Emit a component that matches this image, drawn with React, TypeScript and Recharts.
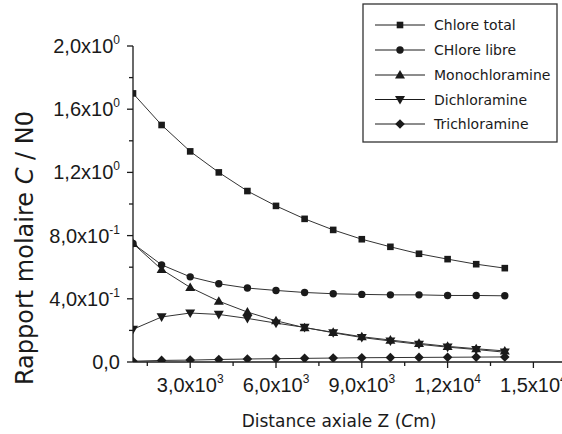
import React from "react";
import { LineChart, Line, XAxis, YAxis } from "recharts";

const distance = [1000, 2000, 3000, 4000, 5000, 6000, 7000, 8000, 9000, 10000, 11000, 12000, 13000, 14000];
const chloreTotal = [1.70, 1.50, 1.333, 1.20, 1.082, 0.988, 0.906, 0.836, 0.777, 0.729, 0.685, 0.651, 0.619, 0.594];
const chloreLibre = [0.75, 0.615, 0.539, 0.495, 0.468, 0.453, 0.440, 0.432, 0.428, 0.425, 0.425, 0.421, 0.421, 0.419];
const monochloramine = [0.75, 0.586, 0.472, 0.385, 0.316, 0.261, 0.217, 0.188, 0.160, 0.139, 0.118, 0.099, 0.084, 0.070];
const dichloramine = [0.207, 0.285, 0.31, 0.301, 0.276, 0.246, 0.219, 0.185, 0.155, 0.133, 0.112, 0.094, 0.079, 0.062];
const trichloramine = [0.005, 0.01, 0.012, 0.016, 0.019, 0.021, 0.023, 0.025, 0.027, 0.028, 0.029, 0.030, 0.031, 0.032];

const seriesNames = ["Chlore total", "CHlore libre", "Monochloramine", "Dichloramine", "Trichloramine"];
const seriesKeys = ["total", "libre", "mono", "di", "tri"];
const seriesShapes = ["square", "circle", "up", "down", "diamond"];

const xTicks = [1500, 3000, 4500, 6000, 7500, 9000, 10500, 12000, 13500, 15000];
const yTicks = [0, 0.2, 0.4, 0.6, 0.8, 1.0, 1.2, 1.4, 1.6, 1.8, 2.0];

const xLabel = "Distance axiale Z";
const yLabel = "Rapport molaire";

const data = distance.map((d, i) => ({
  z: d,
  total: chloreTotal[i],
  libre: chloreLibre[i],
  mono: monochloramine[i],
  di: dichloramine[i],
  tri: trichloramine[i],
}));

const INK = "#1a1a1a";
const TICK_FONT = "'Liberation Sans', Arial, sans-serif";
const TITLE_FONT = "'DejaVu Sans', sans-serif";

function sci(v: number) {
  if (Math.abs(v) < 1e-9) return { m: "0,0", e: null as string | null };
  const e = Math.floor(Math.log10(v) + 1e-9);
  const m = (v / Math.pow(10, e)).toFixed(1).replace(".", ",");
  return { m: m + "x10", e: String(e) };
}

function Marker({ shape, cx, cy }: { shape: string; cx: number; cy: number }) {
  if (cx == null || cy == null) return null;
  switch (shape) {
    case "square":
      return <rect x={cx - 3.3} y={cy - 3.3} width={6.6} height={6.6} fill={INK} />;
    case "circle":
      return <circle cx={cx} cy={cy} r={3.7} fill={INK} />;
    case "up":
      return <polygon points={`${cx},${cy - 5} ${cx + 5},${cy + 3.6} ${cx - 5},${cy + 3.6}`} fill={INK} />;
    case "down":
      return <polygon points={`${cx},${cy + 5} ${cx + 5},${cy - 3.6} ${cx - 5},${cy - 3.6}`} fill={INK} />;
    default:
      return <polygon points={`${cx},${cy - 4.8} ${cx + 4.8},${cy} ${cx},${cy + 4.8} ${cx - 4.8},${cy}`} fill={INK} />;
  }
}

function XTick(props: any) {
  const { x, y, payload } = props;
  const v = payload.value as number;
  const major = Math.round(v) % 3000 === 0;
  const s = sci(v);
  return (
    <g>
      <line x1={x} y1={y} x2={x} y2={y + (major ? 6 : 4)} stroke={INK} strokeWidth={1.3} />
      {major && (
        <text x={x} y={y + 30} textAnchor="middle" fontFamily={TICK_FONT} fontSize={20} fill={INK}>
          {s.m}
          {s.e !== null && (
            <tspan dy={-9} fontSize={12}>{s.e}</tspan>
          )}
        </text>
      )}
    </g>
  );
}

function YTick(props: any) {
  const { x, y, payload } = props;
  const v = payload.value as number;
  const major = Math.round(v * 10) % 4 === 0;
  const s = sci(v);
  return (
    <g>
      <line x1={x - (major ? 6 : 4)} y1={y} x2={x} y2={y} stroke={INK} strokeWidth={1.3} />
      {major && (
        <text x={x - 13} y={y + 7} textAnchor="end" fontFamily={TICK_FONT} fontSize={20} fill={INK}>
          {s.m}
          {s.e !== null && (
            <tspan dy={-9} fontSize={12}>{s.e}</tspan>
          )}
        </text>
      )}
    </g>
  );
}

function LegendBox() {
  const left = 363;
  const top = 4;
  const rowY = [25, 50, 75, 99.5, 124];
  return (
    <g>
      <rect x={left} y={top} width={194} height={138} fill="#fff" stroke="#333" strokeWidth={1.3} />
      {seriesNames.map((n, i) => (
        <g key={n}>
          <line x1={375} y1={rowY[i]} x2={425} y2={rowY[i]} stroke={INK} strokeWidth={1} />
          <Marker shape={seriesShapes[i]} cx={400} cy={rowY[i]} />
          <text x={434} y={rowY[i] + 5} fontFamily={TITLE_FONT} fontSize={14} fill={INK}>{n}</text>
        </g>
      ))}
    </g>
  );
}

export default function App() {
  return (
    <div style={{ position: "absolute", left: 0, top: 0, width: 562, height: 434, background: "#fff", overflow: "hidden" }}>
      <LineChart width={562} height={434} data={data} margin={{ top: 46, right: 0, bottom: 0, left: 0 }}>
        <XAxis
          dataKey="z"
          type="number"
          domain={[1000, 16000]}
          ticks={xTicks}
          allowDataOverflow
          tick={<XTick />}
          tickLine={false}
          tickSize={0}
          tickMargin={0}
          height={72}
          axisLine={{ stroke: INK, strokeWidth: 1.3 }}
          interval={0}
        />
        <YAxis
          type="number"
          domain={[0, 2]}
          ticks={yTicks}
          allowDataOverflow
          tick={<YTick />}
          tickLine={false}
          tickSize={0}
          tickMargin={0}
          width={133}
          axisLine={{ stroke: INK, strokeWidth: 1.3 }}
          interval={0}
        />
        {seriesKeys.map((k, i) => (
          <Line
            key={k}
            dataKey={k}
            name={seriesNames[i]}
            type="linear"
            stroke="#333"
            strokeWidth={1}
            isAnimationActive={false}
            dot={(p: any) => <Marker key={`${k}-${p.index}`} shape={seriesShapes[i]} cx={p.cx} cy={p.cy} />}
            activeDot={false}
          />
        ))}
      </LineChart>
      <svg width={562} height={434} style={{ position: "absolute", left: 0, top: 0, pointerEvents: "none" }}>
        <LegendBox />
        <text x={339} y={427} textAnchor="middle" fontFamily={TITLE_FONT} fontSize={17} fill={INK}>
          {xLabel} (<tspan fontStyle="italic">C</tspan>m)
        </text>
        <text transform="translate(33,248) rotate(-90)" textAnchor="middle" fontFamily={TITLE_FONT} fontSize={24} fill={INK}>
          {yLabel} <tspan fontStyle="italic">C</tspan> / N0
        </text>
      </svg>
    </div>
  );
}
